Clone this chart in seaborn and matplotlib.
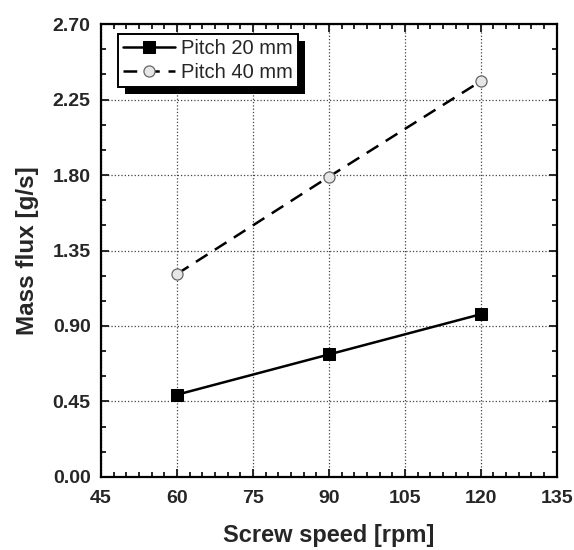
import matplotlib
matplotlib.use("Agg")
import matplotlib.pyplot as plt
import matplotlib.patheffects as pe
from matplotlib.ticker import MultipleLocator, FormatStrFormatter
import seaborn as sns
import pandas as pd

# data
screw_speed = [60, 90, 120]
flux_pitch20 = [0.49, 0.73, 0.97]
flux_pitch40 = [1.21, 1.79, 2.36]
series_names = ["Pitch 20 mm", "Pitch 40 mm"]

df = pd.DataFrame({
    "speed": screw_speed * 2,
    "flux": flux_pitch20 + flux_pitch40,
    "series": [series_names[0]] * 3 + [series_names[1]] * 3,
})

sns.set_style("ticks")
plt.rcParams['font.family'] = ['Liberation Sans', 'DejaVu Sans']
plt.rcParams['xtick.direction'] = 'in'
plt.rcParams['ytick.direction'] = 'in'

fig = plt.figure(figsize=(5.74, 5.5), dpi=100)
ax = fig.add_axes([0.176, 0.133, 0.794, 0.823])

sns.lineplot(data=df, x="speed", y="flux", hue="series", style="series",
             palette=["black", "black"], markers=["s", "o"],
             dashes=[(None, None), (5.5, 3.5)], linewidth=1.8, markersize=8,
             ax=ax, legend=False)

# restyle markers: filled squares, open light circles
lines = ax.get_lines()
lines[0].set_markerfacecolor("black")
lines[0].set_markeredgecolor("black")
lines[1].set_markerfacecolor("#e6e6e6")
lines[1].set_markeredgecolor("#666666")
lines[1].set_markeredgewidth(0.9)

ax.set_xlim(45, 135)
ax.set_ylim(0, 2.70)
ax.xaxis.set_major_locator(MultipleLocator(15))
ax.xaxis.set_minor_locator(MultipleLocator(2.5))
ax.yaxis.set_major_locator(MultipleLocator(0.45))
ax.yaxis.set_minor_locator(MultipleLocator(0.15))
ax.yaxis.set_major_formatter(FormatStrFormatter("%.2f"))

ax.tick_params(which="both", top=True, right=True, direction="in", width=1.4)
ax.tick_params(which="major", length=6, labelsize=14)
ax.tick_params(which="minor", length=3.5)
ax.tick_params(axis="y", which="major", pad=7.5)
ax.tick_params(axis="x", which="major", pad=9.5)
for lab in ax.get_xticklabels() + ax.get_yticklabels():
    lab.set_fontweight("bold")
for sp in ax.spines.values():
    sp.set_linewidth(1.6)
    sp.set_color("black")

ax.grid(True, which="major", linestyle=":", color="#444444", linewidth=0.9)

ax.set_xlabel("Screw speed [rpm]", fontsize=17, fontweight="bold", labelpad=12)
ax.set_ylabel("Mass flux [g/s]", fontsize=17.5, fontweight="bold", labelpad=10)

leg = ax.legend(lines, series_names, loc="upper left", fontsize=14.5,
                frameon=True, fancybox=False, handlelength=2.6,
                borderpad=0.25, labelspacing=0.25, handletextpad=0.3,
                borderaxespad=0, bbox_to_anchor=(0.037, 0.978))
frame = leg.get_frame()
frame.set_edgecolor("black")
frame.set_linewidth(1.4)
frame.set_alpha(1)
frame.set_path_effects([pe.SimplePatchShadow(offset=(5, -5), shadow_rgbFace="black", alpha=1),
                        pe.Normal()])

fig.savefig("out.png", dpi=100)
